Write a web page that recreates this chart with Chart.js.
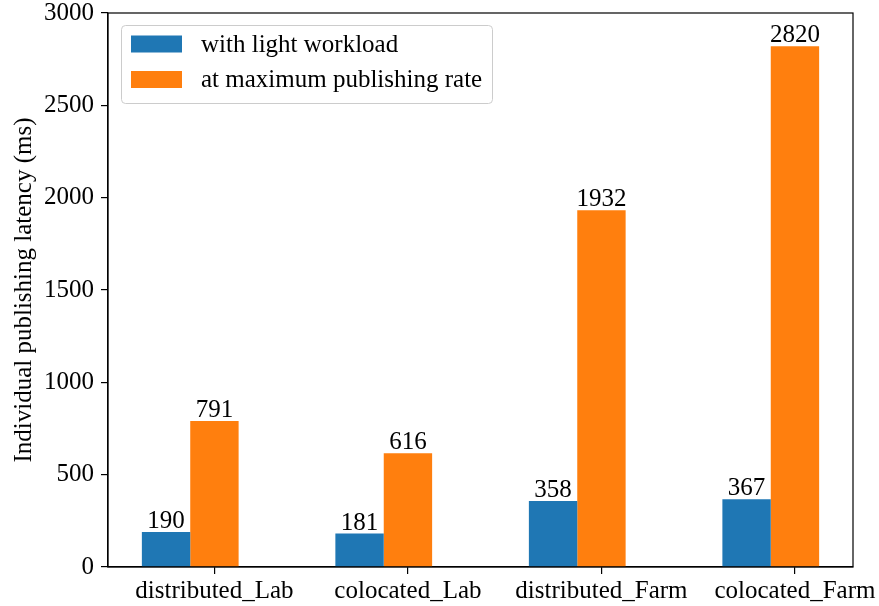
<!DOCTYPE html>
<html><head><meta charset="utf-8">
<script src="https://cdn.jsdelivr.net/npm/chart.js@4/dist/chart.umd.min.js"></script>
<style>html,body{margin:0;padding:0;background:#fff}#wrap{width:879px;height:606px}</style>
</head><body><div id="wrap"><canvas id="c" width="879" height="606"></canvas></div>
<script>
const categories = ["distributed_Lab", "colocated_Lab", "distributed_Farm", "colocated_Farm"];
const lightWorkload = [190, 181, 358, 367];
const maxRate = [791, 616, 1932, 2820];
const seriesNames = ["with light workload", "at maximum publishing rate"];
const yTicks = [0, 500, 1000, 1500, 2000, 2500, 3000];

const FONT = "'Liberation Serif', 'Times New Roman', serif";
const FS = 25;

const frame = {
  id: 'frame',
  afterDraw(chart) {
    const {ctx, chartArea: a} = chart;
    ctx.save();
    ctx.strokeStyle = '#000'; ctx.lineWidth = 1.2;
    ctx.strokeRect(a.left, a.top, a.right - a.left, a.bottom - a.top);
    ctx.restore();
  }
};
const barLabels = {
  id: 'barLabels',
  afterDatasetsDraw(chart) {
    const ctx = chart.ctx;
    ctx.save();
    ctx.font = FS + 'px ' + FONT; ctx.fillStyle = '#000';
    ctx.textAlign = 'center'; ctx.textBaseline = 'alphabetic';
    chart.data.datasets.forEach((ds, di) => {
      chart.getDatasetMeta(di).data.forEach((el, i) => {
        ctx.fillText(String(ds.data[i].y), el.x, el.y - 4);
      });
    });
    ctx.restore();
  }
};
const legendBox = {
  id: 'legendBox',
  afterDraw(chart) {
    const ctx = chart.ctx;
    const a = chart.chartArea;
    const x = a.left + 13, y = a.top + 12, w = 371, h = 78;
    ctx.save();
    ctx.fillStyle = 'rgba(255,255,255,0.8)';
    ctx.strokeStyle = '#cccccc'; ctx.lineWidth = 1;
    ctx.beginPath();
    if (ctx.roundRect) ctx.roundRect(x + 0.5, y + 0.5, w, h, 4); else ctx.rect(x + 0.5, y + 0.5, w, h);
    ctx.fill(); ctx.stroke();
    ctx.font = FS + 'px ' + FONT; ctx.textBaseline = 'middle'; ctx.textAlign = 'left';
    chart.data.datasets.forEach((ds, i) => {
      const cy = y + 19 + i * 35.5;
      ctx.fillStyle = ds.backgroundColor;
      ctx.fillRect(x + 10, cy - 8.5, 51, 17);
      ctx.fillStyle = '#000';
      ctx.fillText(ds.label, x + 80, cy + 1);
    });
    ctx.restore();
  }
};

new Chart(document.getElementById('c'), {
  type: 'bar',
  data: {
    datasets: [
      { label: seriesNames[0], backgroundColor: '#1f77b4', data: lightWorkload.map((v, i) => ({x: i, y: v})) },
      { label: seriesNames[1], backgroundColor: '#ff7f0e', data: maxRate.map((v, i) => ({x: i, y: v})) }
    ]
  },
  options: {
    responsive: false, animation: false,
    layout: { padding: { left: 0, top: 13, right: 26, bottom: 0 } },
    datasets: { bar: { categoryPercentage: 0.5, barPercentage: 1.0 } },
    plugins: { legend: { display: false }, tooltip: { enabled: false } },
    scales: {
      x: {
        type: 'linear', min: -0.425, max: 3.425, offset: false,
        afterBuildTicks(s) { s.ticks = categories.map((c, i) => ({ value: i + 0.125 })); },
        afterFit(s) { s.height = 39; s.paddingLeft = 0; s.paddingRight = 0; },
        grid: { offset: false, drawOnChartArea: false, drawTicks: true, tickLength: 7, color: '#000', lineWidth: 1.2 },
        border: { display: true, color: '#000', width: 1.2 },
        ticks: {
          autoSkip: false, maxRotation: 0, padding: 2, color: '#000',
          font: { family: FONT, size: FS },
          callback: (v, idx) => categories[idx]
        }
      },
      y: {
        min: 0, max: 3000,
        afterBuildTicks(s) { s.ticks = yTicks.map(v => ({ value: v })); },
        afterFit(s) { s.width = 108; s.paddingTop = 0; s.paddingBottom = 0; },
        grid: { drawOnChartArea: false, drawTicks: true, tickLength: 7, color: '#000', lineWidth: 1.2 },
        border: { display: true, color: '#000', width: 1.2 },
        ticks: { padding: 7, color: '#000', font: { family: FONT, size: FS }, callback: v => String(v) },
        title: { display: true, text: 'Individual publishing latency (ms)', color: '#000', font: { family: FONT, size: 25 }, padding: { top: 9, bottom: 4 } }
      }
    }
  },
  plugins: [frame, barLabels, legendBox]
});
</script></body></html>
